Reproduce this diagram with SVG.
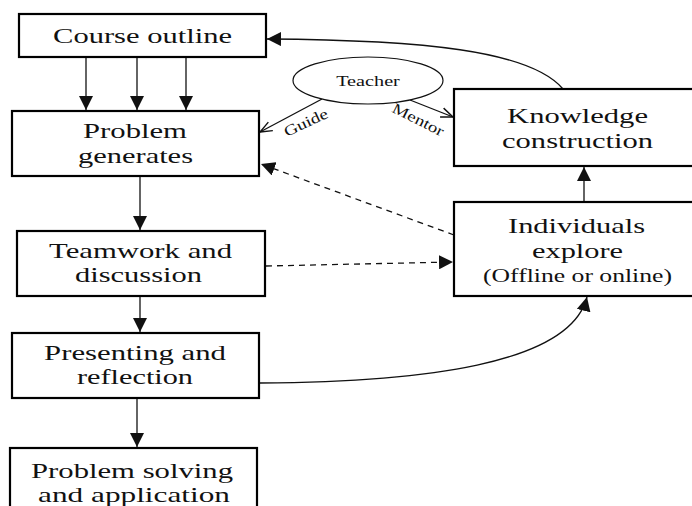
<svg xmlns="http://www.w3.org/2000/svg" width="692" height="506" viewBox="0 0 692 506">
<style>
.box{fill:#fff;stroke:#000;stroke-width:2.2}
.t{font-family:"Liberation Serif",serif;font-size:21px;fill:#111;text-anchor:middle}
.s{font-family:"Liberation Serif",serif;font-size:18px;fill:#111;text-anchor:middle}
.l{font-family:"Liberation Serif",serif;font-size:15px;fill:#111;text-anchor:middle}
.c{fill:none;stroke:#111;stroke-width:1.3}
.d{fill:none;stroke:#111;stroke-width:1.3;stroke-dasharray:6 5}
</style>
<defs>
<marker id="ab" viewBox="0 0 10 10" refX="10" refY="5" markerWidth="14" markerHeight="14" markerUnits="userSpaceOnUse" orient="auto"><path d="M0,0 L10,5 L0,10 z" fill="#111"/></marker>
<marker id="o" viewBox="0 0 10 10" refX="10" refY="5" markerWidth="12" markerHeight="12" markerUnits="userSpaceOnUse" orient="auto"><path d="M0,1 L10,5 L0,9" fill="none" stroke="#111" stroke-width="1.2"/></marker>
</defs>
<rect width="692" height="506" fill="#fff"/>
<g id="connectors">
<line class="c" x1="86" y1="58" x2="86" y2="110" marker-end="url(#ab)"/>
<line class="c" x1="137" y1="58" x2="137" y2="110" marker-end="url(#ab)"/>
<line class="c" x1="186" y1="58" x2="186" y2="110" marker-end="url(#ab)"/>
<line class="c" x1="140" y1="177" x2="140" y2="230" marker-end="url(#ab)"/>
<line class="c" x1="140" y1="297" x2="140" y2="332" marker-end="url(#ab)"/>
<line class="c" x1="137" y1="399" x2="137" y2="447" marker-end="url(#ab)"/>
<line class="c" x1="584" y1="201" x2="584" y2="167" marker-end="url(#ab)"/>
<path class="c" d="M563,89 C530,50 420,40 267,39" marker-end="url(#ab)"/>
<path class="c" d="M260,383 C420,382 570,365 587,297" marker-end="url(#ab)"/>
<line class="d" x1="454" y1="235" x2="261" y2="164" marker-end="url(#ab)"/>
<line class="d" x1="266" y1="266" x2="453" y2="262" marker-end="url(#ab)"/>
<line class="c" x1="322" y1="99" x2="260" y2="132" marker-end="url(#o)"/>
<line class="c" x1="410" y1="100" x2="453" y2="117" marker-end="url(#o)"/>
<text class="l" transform="translate(308,127) rotate(-25) scale(1.3,1)" textLength="36" lengthAdjust="spacingAndGlyphs">Guide</text>
<text class="l" transform="translate(416,124) rotate(26.5) scale(1.3,1)" textLength="43" lengthAdjust="spacingAndGlyphs">Mentor</text>
</g>
<g id="course-outline"><rect class="box" x="19" y="14" width="247" height="43"/><text class="t" transform="translate(142.5,43) scale(1.45,1)" textLength="123.4" lengthAdjust="spacingAndGlyphs">Course outline</text></g>
<g id="problem-generates"><rect class="box" x="12" y="111" width="247" height="65"/><text class="t" transform="translate(135,138) scale(1.45,1)" textLength="71.7" lengthAdjust="spacingAndGlyphs">Problem</text><text class="t" transform="translate(135.5,163) scale(1.45,1)" textLength="79.3" lengthAdjust="spacingAndGlyphs">generates</text></g>
<g id="teamwork"><rect class="box" x="17" y="231" width="248" height="65"/><text class="t" transform="translate(140.5,258) scale(1.45,1)" textLength="126.2" lengthAdjust="spacingAndGlyphs">Teamwork and</text><text class="t" transform="translate(138.5,282) scale(1.45,1)" textLength="87.6" lengthAdjust="spacingAndGlyphs">discussion</text></g>
<g id="presenting"><rect class="box" x="12" y="333" width="247" height="65"/><text class="t" transform="translate(135,360) scale(1.45,1)" textLength="125.5" lengthAdjust="spacingAndGlyphs">Presenting and</text><text class="t" transform="translate(135,384) scale(1.45,1)" textLength="80" lengthAdjust="spacingAndGlyphs">reflection</text></g>
<g id="problem-solving"><rect class="box" x="10" y="448" width="247" height="70"/><text class="t" transform="translate(132,478) scale(1.45,1)" textLength="139.3" lengthAdjust="spacingAndGlyphs">Problem solving</text><text class="t" transform="translate(134,502) scale(1.45,1)" textLength="132.4" lengthAdjust="spacingAndGlyphs">and application</text></g>
<g id="teacher"><ellipse cx="368" cy="80.5" rx="75" ry="23.5" fill="#fff" stroke="#111" stroke-width="1.2"/><text class="l" transform="translate(368,86) scale(1.3,1)" textLength="49" lengthAdjust="spacingAndGlyphs">Teacher</text></g>
<g id="knowledge"><rect class="box" x="454" y="89" width="250" height="77"/><text class="t" transform="translate(577.5,123) scale(1.45,1)" textLength="97.2" lengthAdjust="spacingAndGlyphs">Knowledge</text><text class="t" transform="translate(577.5,148) scale(1.45,1)" textLength="104.1" lengthAdjust="spacingAndGlyphs">construction</text></g>
<g id="individuals"><rect class="box" x="454" y="202" width="250" height="94"/><text class="t" transform="translate(576.5,233) scale(1.45,1)" textLength="94.5" lengthAdjust="spacingAndGlyphs">Individuals</text><text class="t" transform="translate(577.5,258) scale(1.45,1)" textLength="62.8" lengthAdjust="spacingAndGlyphs">explore</text><text class="s" transform="translate(577.5,282) scale(1.45,1)" textLength="130.3" lengthAdjust="spacingAndGlyphs">(Offline or online)</text></g>
</svg>
